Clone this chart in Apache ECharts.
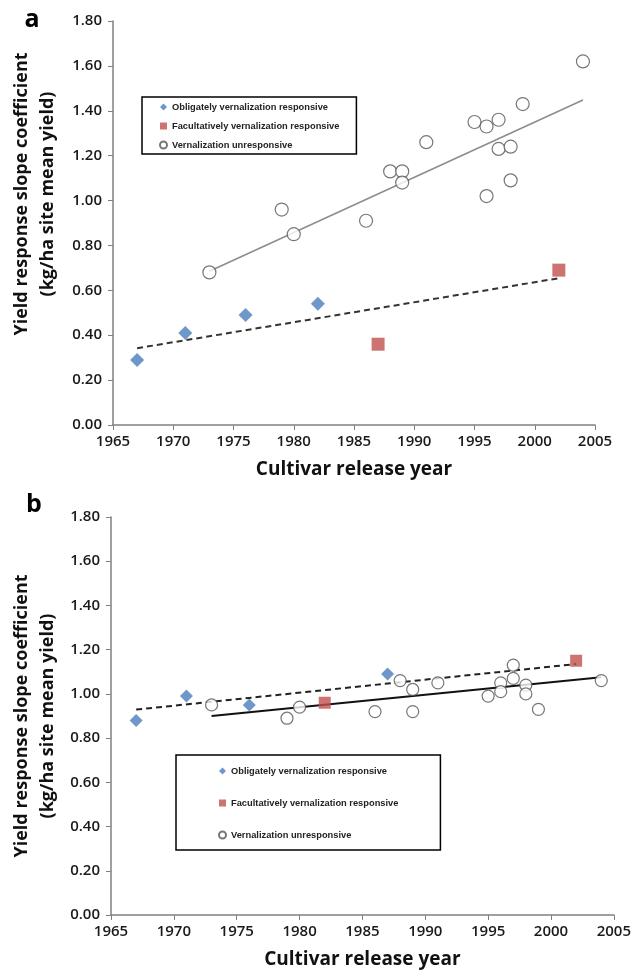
<!DOCTYPE html>
<html>
<head>
<meta charset="utf-8">
<script src="https://cdn.jsdelivr.net/npm/echarts@6/dist/echarts.min.js"></script>
<style>
  html, body { margin: 0; padding: 0; background: #fff; }
  #chart { width: 634px; height: 971px; }
</style>
</head>
<body>
<div id="chart"></div>
<script>
// axis ranges / ticks
var yearMin = 1965, yearMax = 2005, yearStep = 5;
var valMin = 0, valMax = 1.8, valStep = 0.2;

var seriesNames = ['Obligately vernalization responsive', 'Facultatively vernalization responsive', 'Vernalization unresponsive'];
var yTitle = ['Yield response slope coefficient', '(kg/ha site mean yield)'];
var xTitle = 'Cultivar release year';

// panel a
var aObligYears = [1967, 1971, 1976, 1982];
var aObligVals = [0.29, 0.41, 0.49, 0.54];
var aFacYears = [1987, 2002];
var aFacVals = [0.36, 0.69];
var aUnrespYears = [1973, 1979, 1980, 1986, 1988, 1989, 1989, 1991, 1995, 1996, 1996, 1997, 1997, 1998, 1998, 1999, 2004];
var aUnrespVals = [0.68, 0.96, 0.85, 0.91, 1.13, 1.13, 1.08, 1.26, 1.35, 1.33, 1.02, 1.36, 1.23, 1.24, 1.09, 1.43, 1.62];
var aTrendUnrespYears = [1973, 2004];
var aTrendUnrespVals = [0.685, 1.448];
var aTrendRespYears = [1967, 2002];
var aTrendRespVals = [0.342, 0.654];

// panel b
var bObligYears = [1967, 1971, 1976, 1987];
var bObligVals = [0.88, 0.99, 0.95, 1.09];
var bFacYears = [1982, 2002];
var bFacVals = [0.96, 1.15];
var bUnrespYears = [1973, 1979, 1980, 1986, 1988, 1989, 1989, 1991, 1995, 1996, 1996, 1997, 1997, 1998, 1998, 1999, 2004];
var bUnrespVals = [0.95, 0.89, 0.94, 0.92, 1.06, 1.02, 0.92, 1.05, 0.99, 1.05, 1.01, 1.13, 1.07, 1.04, 1.00, 0.93, 1.06];
var bTrendUnrespYears = [1973, 2004];
var bTrendUnrespVals = [0.900, 1.075];
var bTrendRespYears = [1967, 2002];
var bTrendRespVals = [0.929, 1.135];

function pairs(xs, ys) {
  return xs.map(function (x, i) { return [x, ys[i]]; });
}

var FONT = '"Open Sans", "Liberation Sans", sans-serif';
var LEGFONT = '"Liberation Sans", Arial, sans-serif';
var axisGray = '#808080';

function xAxisFor(idx) {
  return {
    type: 'value', gridIndex: idx, min: yearMin, max: yearMax, interval: yearStep,
    name: xTitle, nameLocation: 'middle', nameGap: 35,
    nameTextStyle: { fontFamily: FONT, fontSize: 19, fontWeight: 'bold', color: '#111' },
    axisLine: { lineStyle: { color: axisGray, width: 1.5 } },
    axisTick: { show: true, length: 5, lineStyle: { color: axisGray } },
    axisLabel: { margin: 9, fontFamily: FONT, fontSize: 15, fontWeight: 600, color: '#1a1a1a',
      formatter: function (v) { return String(v); } },
    splitLine: { show: false }
  };
}

function yAxisFor(idx) {
  return {
    type: 'value', gridIndex: idx, min: valMin, max: valMax, interval: valStep,
    axisLine: { show: true, lineStyle: { color: axisGray, width: 1.5 } },
    axisTick: { show: true, length: 5, lineStyle: { color: axisGray } },
    axisLabel: { margin: 11, fontFamily: FONT, fontSize: 15, fontWeight: 600, color: '#1a1a1a',
      formatter: function (v) { return v.toFixed(2); } },
    splitLine: { show: false }
  };
}

function pointSeries(idx, size, oy, ov, fy, fv, uy, uv) {
  return [
    { name: seriesNames[0], type: 'scatter', xAxisIndex: idx, yAxisIndex: idx, symbol: 'diamond', symbolSize: size,
      itemStyle: { color: '#4a7ebb' }, data: pairs(oy, ov), z: 5 },
    { name: seriesNames[1], type: 'scatter', xAxisIndex: idx, yAxisIndex: idx, symbol: 'rect', symbolSize: size - 1,
      itemStyle: { color: '#c0504d' }, data: pairs(fy, fv), z: 5 },
    { name: seriesNames[2], type: 'scatter', xAxisIndex: idx, yAxisIndex: idx, symbol: 'circle', symbolSize: size - 1,
      itemStyle: { color: '#fff', borderColor: '#555', borderWidth: 1.2 }, data: pairs(uy, uv), z: 5 }
  ];
}

function trendSeries(idx, name, xs, ys, color, width, type) {
  return { name: name, type: 'line', xAxisIndex: idx, yAxisIndex: idx, showSymbol: false, silent: true,
    lineStyle: { color: color, width: width, type: type }, data: pairs(xs, ys), z: 3 };
}

function legendFor(left, top, gap, pad) {
  return {
    orient: 'vertical', left: left, top: top, data: seriesNames,
    itemWidth: 7, itemHeight: 7, itemGap: gap, padding: pad,
    borderColor: '#000', borderWidth: 1.5, backgroundColor: '#fff',
    textStyle: { fontFamily: LEGFONT, fontSize: 9.3, fontWeight: 'bold', color: '#222', lineHeight: 12 },
    selectedMode: false
  };
}

// rotated two-line y axis title
function yTitleText(x, cy, line) {
  return { type: 'text', x: x, y: cy, rotation: Math.PI / 2,
    style: { text: line, font: 'bold 18px ' + FONT, fill: '#111', align: 'center', verticalAlign: 'middle' } };
}

var chart = echarts.init(document.getElementById('chart'), null, { renderer: 'canvas' });

chart.setOption({
  backgroundColor: '#fff',
  animation: false,
  grid: [
    { left: 113, top: 21, width: 482, height: 404 },
    { left: 111, top: 517, width: 505, height: 398 }
  ],
  xAxis: [xAxisFor(0), xAxisFor(1)],
  yAxis: [yAxisFor(0), yAxisFor(1)],
  legend: [
    legendFor(142, 97, 7, [4, 17, 3, 17]),
    legendFor(176, 755, 20, [10, 42, 9, 42])
  ],
  graphic: [
    { type: 'text', x: 32, y: 20, style: { text: 'a', font: 'bold 25px ' + FONT, fill: '#000', align: 'center', verticalAlign: 'middle' } },
    { type: 'text', x: 34, y: 505, style: { text: 'b', font: 'bold 25px ' + FONT, fill: '#000', align: 'center', verticalAlign: 'middle' } },
    yTitleText(22, 194, yTitle[0]),
    yTitleText(48, 194, yTitle[1]),
    yTitleText(22, 716, yTitle[0]),
    yTitleText(48, 716, yTitle[1])
  ],
  series: [].concat(
    pointSeries(0, 14, aObligYears, aObligVals, aFacYears, aFacVals, aUnrespYears, aUnrespVals),
    [trendSeries(0, 'trend a unresponsive', aTrendUnrespYears, aTrendUnrespVals, '#8c8c8c', 1.5, 'solid'),
     trendSeries(0, 'trend a responsive', aTrendRespYears, aTrendRespVals, '#333', 2, [6, 4])],
    pointSeries(1, 13, bObligYears, bObligVals, bFacYears, bFacVals, bUnrespYears, bUnrespVals),
    [trendSeries(1, 'trend b unresponsive', bTrendUnrespYears, bTrendUnrespVals, '#111', 2, 'solid'),
     trendSeries(1, 'trend b responsive', bTrendRespYears, bTrendRespVals, '#222', 2, [6, 4])]
  )
});
</script>
</body>
</html>
